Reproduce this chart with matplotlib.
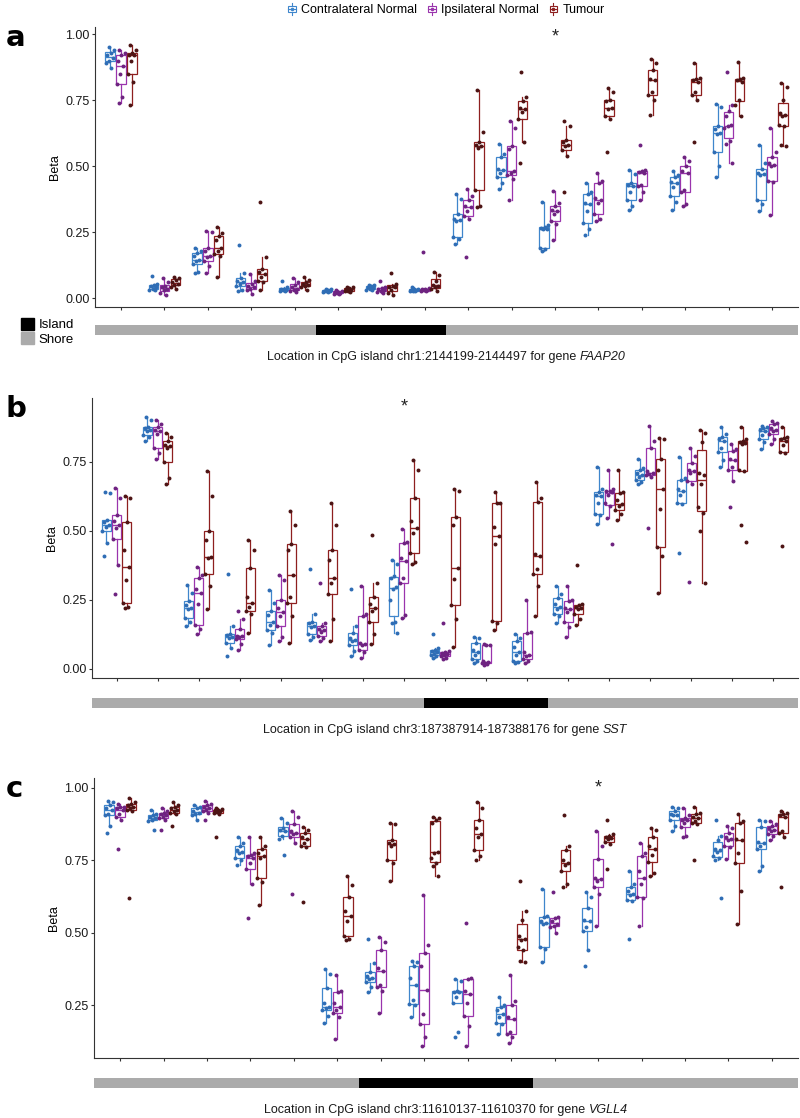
import numpy as np
import matplotlib

matplotlib.use("Agg")
import matplotlib.pyplot as plt
from matplotlib.legend_handler import HandlerBase
from matplotlib.lines import Line2D
from matplotlib.offsetbox import AnchoredOffsetbox, HPacker, TextArea
from matplotlib.patches import Patch, Rectangle
from matplotlib.ticker import MultipleLocator, StrMethodFormatter

plt.rcParams["font.family"] = ["Liberation Sans", "DejaVu Sans"]

GROUPS = ["Contralateral Normal", "Ipsilateral Normal", "Tumour"]
BOX_COLORS = ["#3f86cc", "#9a34ad", "#8e1f1f"]
POINT_COLORS = ["#2f6db5", "#6e2380", "#4d1414"]

# ---- panel a: chr1 FAAP20, 16 CpG sites ----
A_CONTRA = [
    [0.95, 0.94, 0.93, 0.92, 0.91, 0.90, 0.89, 0.87],
    [0.085, 0.055, 0.05, 0.045, 0.04, 0.035, 0.03, 0.03],
    [0.19, 0.18, 0.17, 0.16, 0.145, 0.14, 0.13, 0.10, 0.095],
    [0.20, 0.095, 0.075, 0.065, 0.06, 0.055, 0.045, 0.03, 0.025],
    [0.065, 0.04, 0.035, 0.033, 0.032, 0.03, 0.028, 0.025],
    [0.035, 0.033, 0.03, 0.028, 0.027, 0.025, 0.024, 0.022],
    [0.05, 0.048, 0.045, 0.04, 0.038, 0.035, 0.032, 0.03],
    [0.04, 0.036, 0.033, 0.031, 0.03, 0.028, 0.026, 0.025],
    [0.395, 0.375, 0.32, 0.30, 0.295, 0.29, 0.23, 0.225, 0.205],
    [0.585, 0.545, 0.535, 0.49, 0.485, 0.475, 0.46, 0.435, 0.415],
    [0.365, 0.275, 0.27, 0.265, 0.263, 0.26, 0.19, 0.185, 0.18],
    [0.435, 0.40, 0.395, 0.36, 0.355, 0.33, 0.285, 0.26, 0.24],
    [0.485, 0.47, 0.435, 0.43, 0.425, 0.40, 0.37, 0.35, 0.335],
    [0.48, 0.465, 0.46, 0.44, 0.435, 0.42, 0.385, 0.365, 0.335],
    [0.735, 0.725, 0.65, 0.64, 0.625, 0.62, 0.555, 0.50, 0.46],
    [0.58, 0.51, 0.49, 0.475, 0.47, 0.465, 0.37, 0.355, 0.33],
]
A_IPSI = [
    [0.94, 0.93, 0.92, 0.90, 0.88, 0.85, 0.81, 0.76, 0.74],
    [0.075, 0.06, 0.045, 0.04, 0.035, 0.03, 0.02, 0.012],
    [0.255, 0.25, 0.19, 0.18, 0.16, 0.155, 0.14, 0.12, 0.095],
    [0.09, 0.065, 0.055, 0.045, 0.04, 0.035, 0.03, 0.016],
    [0.075, 0.06, 0.05, 0.04, 0.035, 0.03, 0.025, 0.022],
    [0.03, 0.027, 0.024, 0.022, 0.02, 0.018, 0.016, 0.014],
    [0.063, 0.04, 0.037, 0.034, 0.03, 0.027, 0.022, 0.02],
    [0.175, 0.038, 0.035, 0.033, 0.031, 0.029, 0.027, 0.025],
    [0.415, 0.385, 0.37, 0.35, 0.345, 0.33, 0.31, 0.30, 0.155],
    [0.67, 0.645, 0.575, 0.565, 0.48, 0.475, 0.465, 0.45, 0.37],
    [0.405, 0.36, 0.35, 0.335, 0.33, 0.32, 0.29, 0.28, 0.22],
    [0.475, 0.445, 0.435, 0.38, 0.37, 0.36, 0.32, 0.30, 0.29],
    [0.58, 0.485, 0.482, 0.478, 0.474, 0.43, 0.425, 0.40, 0.37],
    [0.535, 0.52, 0.50, 0.48, 0.475, 0.41, 0.40, 0.355, 0.35],
    [0.857, 0.73, 0.71, 0.69, 0.655, 0.65, 0.645, 0.595, 0.585, 0.51],
    [0.645, 0.555, 0.535, 0.51, 0.505, 0.50, 0.445, 0.44, 0.315],
]
A_TUMOUR = [
    [0.96, 0.94, 0.93, 0.92, 0.92, 0.90, 0.85, 0.82, 0.73],
    [0.08, 0.075, 0.07, 0.06, 0.055, 0.05, 0.04, 0.033],
    [0.27, 0.245, 0.235, 0.22, 0.19, 0.18, 0.165, 0.16, 0.078],
    [0.365, 0.155, 0.11, 0.10, 0.09, 0.08, 0.065, 0.06, 0.03],
    [0.08, 0.07, 0.06, 0.055, 0.05, 0.045, 0.04, 0.032],
    [0.042, 0.04, 0.037, 0.034, 0.032, 0.028, 0.025, 0.022],
    [0.095, 0.055, 0.047, 0.043, 0.04, 0.03, 0.02, 0.012],
    [0.097, 0.088, 0.065, 0.05, 0.045, 0.04, 0.033, 0.025],
    [0.79, 0.63, 0.59, 0.58, 0.575, 0.57, 0.41, 0.35, 0.345],
    [0.855, 0.76, 0.745, 0.72, 0.715, 0.705, 0.68, 0.59, 0.51],
    [0.67, 0.65, 0.60, 0.59, 0.58, 0.575, 0.56, 0.54, 0.40],
    [0.795, 0.78, 0.75, 0.745, 0.72, 0.715, 0.69, 0.68, 0.555],
    [0.905, 0.89, 0.865, 0.83, 0.825, 0.78, 0.77, 0.75, 0.695],
    [0.89, 0.835, 0.83, 0.825, 0.82, 0.78, 0.77, 0.75, 0.59],
    [0.895, 0.835, 0.83, 0.826, 0.82, 0.75, 0.73, 0.69],
    [0.815, 0.80, 0.75, 0.70, 0.695, 0.69, 0.655, 0.65, 0.58, 0.575],
]

# ---- panel b: chr3 SST, 17 CpG sites ----
B_CONTRA = [
    [0.64, 0.635, 0.54, 0.53, 0.52, 0.515, 0.50, 0.455, 0.41],
    [0.91, 0.90, 0.875, 0.87, 0.865, 0.86, 0.845, 0.84, 0.825],
    [0.305, 0.275, 0.245, 0.23, 0.22, 0.215, 0.185, 0.17, 0.155],
    [0.345, 0.155, 0.125, 0.122, 0.115, 0.11, 0.095, 0.075, 0.045],
    [0.285, 0.24, 0.21, 0.195, 0.17, 0.16, 0.14, 0.13, 0.085],
    [0.36, 0.20, 0.17, 0.165, 0.155, 0.15, 0.125, 0.115, 0.105],
    [0.29, 0.155, 0.13, 0.11, 0.105, 0.10, 0.085, 0.065, 0.045],
    [0.395, 0.38, 0.335, 0.33, 0.295, 0.29, 0.25, 0.17, 0.165, 0.13],
    [0.125, 0.075, 0.07, 0.065, 0.06, 0.055, 0.05, 0.045, 0.04],
    [0.115, 0.11, 0.095, 0.07, 0.06, 0.05, 0.035, 0.03, 0.02],
    [0.125, 0.11, 0.10, 0.08, 0.06, 0.05, 0.03, 0.025, 0.02],
    [0.30, 0.27, 0.255, 0.235, 0.225, 0.215, 0.20, 0.19, 0.165],
    [0.73, 0.65, 0.64, 0.63, 0.625, 0.60, 0.56, 0.555, 0.525],
    [0.76, 0.725, 0.72, 0.71, 0.70, 0.695, 0.685, 0.675, 0.67],
    [0.765, 0.69, 0.685, 0.65, 0.645, 0.63, 0.60, 0.595, 0.42],
    [0.875, 0.85, 0.84, 0.83, 0.825, 0.80, 0.785, 0.755, 0.73],
    [0.88, 0.875, 0.87, 0.865, 0.86, 0.845, 0.83, 0.82, 0.795],
]
B_IPSI = [
    [0.655, 0.62, 0.555, 0.535, 0.52, 0.51, 0.47, 0.375, 0.27],
    [0.90, 0.885, 0.875, 0.865, 0.86, 0.85, 0.80, 0.78, 0.76],
    [0.37, 0.34, 0.33, 0.29, 0.275, 0.235, 0.16, 0.145, 0.125],
    [0.21, 0.18, 0.145, 0.12, 0.118, 0.115, 0.108, 0.09, 0.07],
    [0.34, 0.32, 0.25, 0.22, 0.205, 0.19, 0.155, 0.115, 0.10],
    [0.31, 0.165, 0.155, 0.145, 0.14, 0.135, 0.12, 0.11, 0.10],
    [0.30, 0.20, 0.19, 0.095, 0.09, 0.085, 0.07, 0.06, 0.04],
    [0.505, 0.46, 0.455, 0.40, 0.39, 0.33, 0.31, 0.195, 0.185],
    [0.165, 0.065, 0.06, 0.058, 0.055, 0.05, 0.045, 0.04, 0.035],
    [0.09, 0.088, 0.085, 0.03, 0.025, 0.022, 0.02, 0.018, 0.015],
    [0.25, 0.135, 0.13, 0.06, 0.05, 0.045, 0.035, 0.03, 0.02],
    [0.30, 0.25, 0.245, 0.22, 0.215, 0.205, 0.17, 0.15, 0.115],
    [0.72, 0.65, 0.645, 0.643, 0.64, 0.63, 0.60, 0.59, 0.545, 0.45],
    [0.88, 0.825, 0.80, 0.715, 0.71, 0.705, 0.70, 0.695, 0.51],
    [0.80, 0.77, 0.745, 0.72, 0.715, 0.71, 0.68, 0.67, 0.315],
    [0.815, 0.795, 0.79, 0.76, 0.755, 0.73, 0.72, 0.68, 0.585],
    [0.895, 0.89, 0.885, 0.87, 0.865, 0.86, 0.85, 0.83, 0.815],
]
B_TUMOUR = [
    [0.625, 0.62, 0.53, 0.43, 0.37, 0.32, 0.24, 0.225, 0.22],
    [0.855, 0.84, 0.825, 0.81, 0.805, 0.80, 0.75, 0.69, 0.67],
    [0.715, 0.625, 0.50, 0.465, 0.405, 0.40, 0.345, 0.30, 0.215],
    [0.465, 0.43, 0.365, 0.26, 0.24, 0.225, 0.21, 0.20, 0.13],
    [0.57, 0.52, 0.45, 0.43, 0.34, 0.26, 0.24, 0.19, 0.095],
    [0.60, 0.52, 0.43, 0.395, 0.33, 0.31, 0.27, 0.18, 0.10],
    [0.485, 0.31, 0.26, 0.235, 0.22, 0.21, 0.17, 0.125, 0.09],
    [0.755, 0.72, 0.62, 0.535, 0.51, 0.49, 0.42, 0.385, 0.38],
    [0.65, 0.645, 0.55, 0.52, 0.365, 0.325, 0.23, 0.18, 0.08],
    [0.64, 0.60, 0.60, 0.515, 0.48, 0.45, 0.175, 0.165, 0.14],
    [0.675, 0.62, 0.605, 0.415, 0.41, 0.36, 0.345, 0.30, 0.19],
    [0.375, 0.235, 0.23, 0.225, 0.22, 0.215, 0.20, 0.18, 0.16],
    [0.72, 0.64, 0.635, 0.61, 0.595, 0.59, 0.575, 0.56, 0.54],
    [0.835, 0.83, 0.76, 0.72, 0.65, 0.58, 0.44, 0.41, 0.275],
    [0.865, 0.855, 0.82, 0.71, 0.70, 0.67, 0.585, 0.565, 0.50, 0.31],
    [0.875, 0.83, 0.825, 0.82, 0.818, 0.815, 0.72, 0.715, 0.52, 0.46],
    [0.875, 0.84, 0.835, 0.83, 0.825, 0.81, 0.785, 0.78, 0.445],
]

# ---- panel c: chr3 VGLL4, 16 CpG sites ----
C_CONTRA = [
    [0.955, 0.95, 0.94, 0.93, 0.925, 0.91, 0.905, 0.87, 0.845],
    [0.925, 0.91, 0.905, 0.90, 0.895, 0.89, 0.885, 0.855],
    [0.94, 0.935, 0.93, 0.92, 0.915, 0.91, 0.905, 0.89],
    [0.83, 0.81, 0.80, 0.785, 0.78, 0.775, 0.76, 0.75, 0.735],
    [0.895, 0.88, 0.86, 0.855, 0.85, 0.835, 0.825, 0.77],
    [0.375, 0.36, 0.31, 0.26, 0.245, 0.24, 0.235, 0.215, 0.19],
    [0.48, 0.395, 0.365, 0.35, 0.345, 0.34, 0.33, 0.315, 0.295],
    [0.405, 0.40, 0.385, 0.345, 0.32, 0.27, 0.255, 0.25, 0.21],
    [0.34, 0.335, 0.30, 0.298, 0.295, 0.28, 0.26, 0.16, 0.14],
    [0.28, 0.25, 0.245, 0.235, 0.22, 0.21, 0.19, 0.185, 0.15],
    [0.65, 0.56, 0.555, 0.54, 0.535, 0.53, 0.45, 0.445, 0.40],
    [0.64, 0.625, 0.585, 0.545, 0.54, 0.52, 0.505, 0.44, 0.385],
    [0.715, 0.67, 0.66, 0.645, 0.635, 0.63, 0.615, 0.61, 0.48],
    [0.935, 0.93, 0.92, 0.91, 0.908, 0.905, 0.89, 0.87, 0.85],
    [0.89, 0.835, 0.82, 0.79, 0.785, 0.78, 0.765, 0.76, 0.75, 0.62],
    [0.89, 0.885, 0.865, 0.815, 0.81, 0.80, 0.79, 0.73, 0.715],
]
C_IPSI = [
    [0.945, 0.935, 0.933, 0.93, 0.925, 0.91, 0.90, 0.89, 0.79],
    [0.93, 0.92, 0.915, 0.91, 0.905, 0.90, 0.895, 0.89, 0.855],
    [0.955, 0.945, 0.94, 0.935, 0.93, 0.925, 0.92, 0.915, 0.89],
    [0.83, 0.775, 0.77, 0.765, 0.76, 0.74, 0.72, 0.67, 0.55],
    [0.92, 0.90, 0.875, 0.85, 0.845, 0.84, 0.83, 0.81, 0.635],
    [0.355, 0.30, 0.295, 0.26, 0.245, 0.235, 0.225, 0.21, 0.135],
    [0.485, 0.47, 0.44, 0.38, 0.37, 0.32, 0.315, 0.30, 0.225],
    [0.63, 0.46, 0.43, 0.385, 0.305, 0.22, 0.185, 0.14, 0.11],
    [0.535, 0.345, 0.34, 0.30, 0.29, 0.26, 0.215, 0.18, 0.11],
    [0.355, 0.265, 0.25, 0.21, 0.205, 0.16, 0.15, 0.14, 0.12],
    [0.64, 0.555, 0.55, 0.54, 0.53, 0.525, 0.52, 0.50],
    [0.85, 0.80, 0.755, 0.69, 0.685, 0.68, 0.66, 0.635, 0.525],
    [0.81, 0.775, 0.765, 0.715, 0.69, 0.67, 0.625, 0.62, 0.525],
    [0.93, 0.905, 0.895, 0.89, 0.888, 0.88, 0.865, 0.835, 0.83],
    [0.87, 0.86, 0.845, 0.83, 0.825, 0.82, 0.80, 0.795, 0.755],
    [0.885, 0.875, 0.87, 0.86, 0.855, 0.85, 0.84, 0.835, 0.82],
]
C_TUMOUR = [
    [0.965, 0.95, 0.945, 0.94, 0.935, 0.93, 0.925, 0.92, 0.62],
    [0.95, 0.94, 0.935, 0.93, 0.925, 0.92, 0.915, 0.91, 0.87],
    [0.93, 0.928, 0.925, 0.922, 0.92, 0.918, 0.915, 0.91, 0.83],
    [0.83, 0.80, 0.79, 0.775, 0.765, 0.76, 0.69, 0.675, 0.595],
    [0.865, 0.855, 0.845, 0.83, 0.825, 0.81, 0.80, 0.795, 0.605],
    [0.695, 0.665, 0.625, 0.575, 0.56, 0.54, 0.49, 0.48, 0.475],
    [0.88, 0.875, 0.82, 0.81, 0.805, 0.80, 0.75, 0.74, 0.68],
    [0.90, 0.895, 0.89, 0.88, 0.78, 0.775, 0.76, 0.74, 0.73, 0.695],
    [0.95, 0.93, 0.89, 0.86, 0.84, 0.83, 0.785, 0.765, 0.75],
    [0.68, 0.575, 0.545, 0.49, 0.48, 0.475, 0.45, 0.44, 0.405, 0.40],
    [0.905, 0.80, 0.785, 0.75, 0.74, 0.735, 0.715, 0.67, 0.66],
    [0.89, 0.84, 0.835, 0.83, 0.828, 0.825, 0.815, 0.805, 0.72],
    [0.86, 0.855, 0.83, 0.80, 0.79, 0.77, 0.745, 0.705, 0.695],
    [0.935, 0.915, 0.91, 0.90, 0.895, 0.885, 0.88, 0.875, 0.75],
    [0.91, 0.885, 0.88, 0.825, 0.82, 0.775, 0.74, 0.645, 0.53],
    [0.92, 0.915, 0.91, 0.905, 0.90, 0.85, 0.845, 0.83, 0.66],
]

ISLAND_A = [6, 7, 8]
ISLAND_B = [9, 10, 11]
ISLAND_C = [7, 8, 9, 10]

STAR_A = (11, 0.99)
STAR_B = (8, 0.948)
STAR_C = (12, 1.0)

LABEL_A = ("Location in CpG island chr1:2144199-2144497 for gene", "FAAP20")
LABEL_B = ("Location in CpG island chr3:187387914-187388176 for gene", "SST")
LABEL_C = ("Location in CpG island chr3:11610137-11610370 for gene", "VGLL4")

# layout in pixels of the 800x1118 canvas: (left, top, right, bottom)
W, H = 800, 1118
AX_A = (95, 27, 798, 307)
AX_B = (92, 398, 798, 678)
AX_C = (94, 778, 798, 1058)
BAR_A = (325, 335)
BAR_B = (698, 708)
BAR_C = (1078, 1088)
YLIM_A = (-0.034, 1.027)
YLIM_B = (-0.033, 0.98)
YLIM_C = (0.069, 1.034)
DODGE = [-0.25, 0.0, 0.25]
SHORE_GRAY = "#ababab"


class BoxGlyph(HandlerBase):
    def create_artists(self, legend, orig_handle, xdescent, ydescent,
                       width, height, fontsize, trans):
        color = orig_handle.get_edgecolor()
        cx = width / 2 - xdescent
        bw = height * 0.75
        y0 = -ydescent
        mid = y0 + height / 2
        whisk = Line2D([cx, cx], [y0 - height * 0.05, y0 + height * 1.05],
                       color=color, lw=0.8, transform=trans)
        box = Rectangle((cx - bw / 2, y0 + height * 0.2), bw, height * 0.6,
                        facecolor="white", edgecolor=color, lw=0.8, transform=trans)
        med = Line2D([cx - bw / 2, cx + bw / 2], [mid, mid], color=color, lw=0.8,
                     transform=trans)
        dot = Line2D([cx], [mid], marker="o", ms=1.6, color=color, transform=trans)
        return [whisk, box, med, dot]


def fig_rect(left, top, right, bottom):
    return [left / W, 1 - bottom / H, (right - left) / W, (bottom - top) / H]


def draw_panel(fig, rect, bar_rows, groups, ylim, island, star, label, letter):
    n = len(groups[0])
    ax = fig.add_axes(fig_rect(*rect))
    for g, data in enumerate(groups):
        pos = np.arange(1, n + 1) + DODGE[g]
        c = BOX_COLORS[g]
        ax.boxplot(
            data, positions=pos, widths=0.22, whis=1.5, showfliers=False,
            showcaps=False, patch_artist=True, manage_ticks=False,
            boxprops=dict(facecolor="white", edgecolor=c, linewidth=0.9),
            medianprops=dict(color=c, linewidth=1.0),
            whiskerprops=dict(color=c, linewidth=0.9),
            zorder=2,
        )
        for p, vals in zip(pos, data):
            vals = np.asarray(vals)
            jit = ((np.arange(len(vals)) * 0.618 + 0.31) % 1 - 0.5) * 0.2
            ax.scatter(p + jit, vals, s=8, color=POINT_COLORS[g], lw=0, zorder=3)

    ax.text(star[0], star[1], "*", ha="center", va="center", fontsize=13,
            color="#222222")

    ax.set_xlim(0.4, n + 0.6)
    ax.set_ylim(*ylim)
    ax.set_xticks(np.arange(1, n + 1))
    ax.set_xticklabels([])
    ax.yaxis.set_major_locator(MultipleLocator(0.25))
    ax.yaxis.set_major_formatter(StrMethodFormatter("{x:.2f}"))
    ax.set_ylabel("Beta", fontsize=9, labelpad=3)
    ax.tick_params(length=2.5, width=0.8, color="#333333", labelsize=9,
                   labelcolor="#1a1a1a", pad=1.5)
    for side in ("top", "right"):
        ax.spines[side].set_visible(False)
    for side in ("left", "bottom"):
        ax.spines[side].set_color("#333333")
        ax.spines[side].set_linewidth(0.8)

    # shore / island strip under the panel
    bar = fig.add_axes(fig_rect(rect[0], bar_rows[0], rect[2], bar_rows[1]))
    bar.set_facecolor(SHORE_GRAY)
    bar.bar(island, 1, width=1.0, bottom=0, color="black", lw=0)
    bar.set_xlim(0.4, n + 0.6)
    bar.set_ylim(0, 1)
    bar.set_xticks([])
    bar.set_yticks([])
    for spine in bar.spines.values():
        spine.set_visible(False)

    # axis title with italic gene name
    cx = (rect[0] + rect[2]) / 2 / W
    label_y = bar_rows[1] + 22
    pack = HPacker(
        children=[
            TextArea(label[0], textprops=dict(fontsize=9, color="#1a1a1a")),
            TextArea(label[1], textprops=dict(fontsize=9, color="#1a1a1a",
                                              style="italic")),
        ],
        align="baseline", pad=0, sep=2.5,
    )
    box = AnchoredOffsetbox(loc="center", child=pack, pad=0, frameon=False,
                            bbox_to_anchor=(cx, 1 - label_y / H),
                            bbox_transform=fig.transFigure, borderpad=0)
    fig.add_artist(box)

    fig.text(6 / W, 1 - (rect[1] + 11) / H, letter, ha="left", va="center",
             fontsize=21, fontweight="heavy", family="DejaVu Sans")
    return ax


def main() -> None:
    fig = plt.figure(figsize=(W / 100, H / 100), dpi=100)

    draw_panel(fig, AX_A, BAR_A, [A_CONTRA, A_IPSI, A_TUMOUR], YLIM_A,
               ISLAND_A, STAR_A, LABEL_A, "a")
    draw_panel(fig, AX_B, BAR_B, [B_CONTRA, B_IPSI, B_TUMOUR], YLIM_B,
               ISLAND_B, STAR_B, LABEL_B, "b")
    draw_panel(fig, AX_C, BAR_C, [C_CONTRA, C_IPSI, C_TUMOUR], YLIM_C,
               ISLAND_C, STAR_C, LABEL_C, "c")

    handles = [Patch(facecolor="white", edgecolor=c) for c in BOX_COLORS]
    fig.legend(handles, GROUPS, handler_map={Patch: BoxGlyph()}, ncol=3,
               loc="center", bbox_to_anchor=(0.558, 1 - 10 / H), frameon=False,
               fontsize=9, handlelength=0.7, handleheight=0.9, handletextpad=0.4,
               columnspacing=0.8, borderpad=0, borderaxespad=0)

    fig.legend([Patch(color="black"), Patch(color=SHORE_GRAY)], ["Island", "Shore"],
               loc="upper left", bbox_to_anchor=(21 / W, 1 - 318 / H), frameon=False,
               fontsize=9.5, handlelength=1.0, handleheight=1.0, labelspacing=0.05,
               handletextpad=0.35, borderpad=0, borderaxespad=0)

    fig.savefig("out.png", dpi=100, facecolor="white")


if __name__ == "__main__":
    main()
